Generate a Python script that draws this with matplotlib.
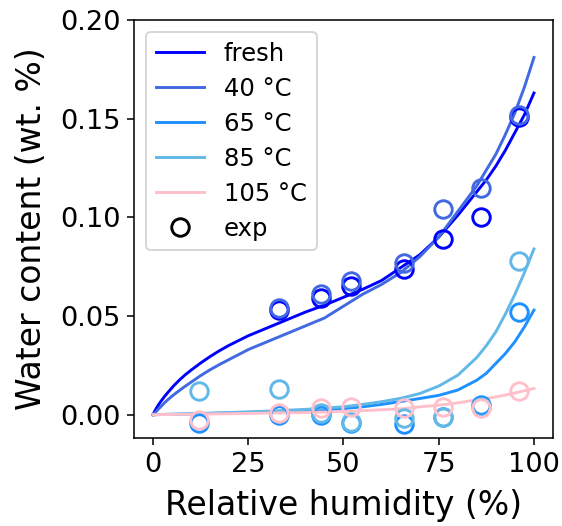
import matplotlib
matplotlib.use("Agg")
import matplotlib.pyplot as plt
from matplotlib.lines import Line2D

# Model isotherm curves (relative humidity in %, water content in wt. %)
rh_fresh = [0, 0.5, 1, 1.5, 2, 3, 4, 5.5, 7, 8.5, 10, 12.5, 15, 17.5, 20, 25, 30, 35, 40, 45,
            50, 55, 60, 65, 70, 75, 80, 85, 87.5, 90, 92.5, 95, 97.5, 100]
wc_fresh = [0, 0.002, 0.0037, 0.0052, 0.0066, 0.0092, 0.0115, 0.0148, 0.0177, 0.0203, 0.0226,
            0.0262, 0.0295, 0.0325, 0.0352, 0.040, 0.044, 0.048, 0.052, 0.0555, 0.0595, 0.0635,
            0.068, 0.0745, 0.081, 0.090, 0.101, 0.113, 0.119, 0.126, 0.134, 0.143, 0.152, 0.163]

rh_40 = [0, 0.5, 1, 2, 3, 4, 5.5, 7, 8.5, 10, 12.5, 15, 17.5, 20, 25, 30, 35, 40, 45,
         50, 55, 60, 65, 70, 75, 80, 85, 87.5, 90, 92.5, 95, 97.5, 100]
wc_40 = [0, 0.001, 0.002, 0.004, 0.006, 0.0078, 0.0102, 0.0124, 0.0145, 0.0165, 0.0198,
         0.0228, 0.0255, 0.028, 0.033, 0.037, 0.041, 0.045, 0.049, 0.055, 0.061, 0.066,
         0.072, 0.080, 0.090, 0.103, 0.116, 0.124, 0.132, 0.142, 0.153, 0.166, 0.181]

rh_65 = [0, 10, 20, 30, 40, 50, 55, 60, 65, 70, 75, 80, 85, 87.5, 90, 92.5, 95, 97.5, 100]
wc_65 = [0, 0.0004, 0.0009, 0.0014, 0.0021, 0.0031, 0.0040, 0.0052, 0.0067, 0.0082,
         0.0098, 0.0125, 0.0175, 0.021, 0.026, 0.031, 0.037, 0.0445, 0.053]

rh_85 = [0, 10, 20, 30, 40, 50, 55, 60, 65, 70, 75, 80, 85, 87.5, 90, 92.5, 95, 97.5, 100]
wc_85 = [0, 0.0005, 0.0011, 0.0018, 0.0027, 0.0040, 0.0052, 0.0066, 0.0083, 0.0107,
         0.0145, 0.020, 0.029, 0.035, 0.042, 0.051, 0.061, 0.072, 0.084]

rh_105 = [0, 20, 40, 50, 60, 65, 70, 75, 80, 85, 90, 95, 100]
wc_105 = [0, 0.0005, 0.0011, 0.0016, 0.0025, 0.0030, 0.0040, 0.0048, 0.0060, 0.0075,
          0.0090, 0.0110, 0.0133]

# Measured points
exp_rh_hi = [33, 44, 52, 66, 76, 86, 96]
exp_fresh = [0.053, 0.059, 0.065, 0.074, 0.089, 0.100, 0.151]
exp_40 = [0.054, 0.061, 0.068, 0.077, 0.104, 0.115, 0.152]

exp_rh = [12, 33, 44, 52, 66, 76, 86, 96]
exp_65 = [-0.004, 0.000, 0.000, -0.004, -0.0045, -0.001, 0.005, 0.052]
exp_85 = [0.012, 0.013, 0.001, -0.0035, -0.0015, -0.001, 0.004, 0.078]
exp_105 = [-0.0025, 0.001, 0.0035, 0.004, 0.0035, 0.004, 0.0035, 0.012]

labels = ["fresh", "40 °C", "65 °C", "85 °C", "105 °C"]
colors = ["blue", "royalblue", "dodgerblue", "#62b8e6", "pink"]

fig = plt.figure(figsize=(562 / 140, 526 / 140), dpi=140)
ax = fig.add_axes([0.2384, 0.1673, 0.7456, 0.7947])

curves = [(rh_fresh, wc_fresh), (rh_40, wc_40), (rh_65, wc_65), (rh_85, wc_85), (rh_105, wc_105)]
for (x, y), c, lab in zip(curves, colors, labels):
    ax.plot(x, y, color=c, lw=1.5, label=lab)

points = [(exp_rh_hi, exp_fresh), (exp_rh_hi, exp_40), (exp_rh, exp_65), (exp_rh, exp_85), (exp_rh, exp_105)]
for (x, y), c in zip(points, colors):
    ax.plot(x, y, linestyle="none", marker="o", ms=9, mfc="none", mec=c, mew=1.5)

ax.set_xlim(-5, 105)
ax.set_ylim(-0.0118, 0.20)
ax.set_xticks([0, 25, 50, 75, 100])
ax.set_yticks([0.0, 0.05, 0.10, 0.15, 0.20])
ax.set_yticklabels(["0.00", "0.05", "0.10", "0.15", "0.20"])
ax.tick_params(labelsize=14)
ax.set_xlabel("Relative humidity (%)", fontsize=17, labelpad=6)
ax.set_ylabel("Water content (wt. %)", fontsize=17, labelpad=6)

handles, labs = ax.get_legend_handles_labels()
handles.append(Line2D([], [], linestyle="none", marker="o", ms=9, mfc="none", mec="black", mew=1.5))
labs.append("exp")
ax.legend(handles, labs, loc="upper left", fontsize=12.5, labelspacing=0.45)

fig.savefig("out.png", dpi=140)
